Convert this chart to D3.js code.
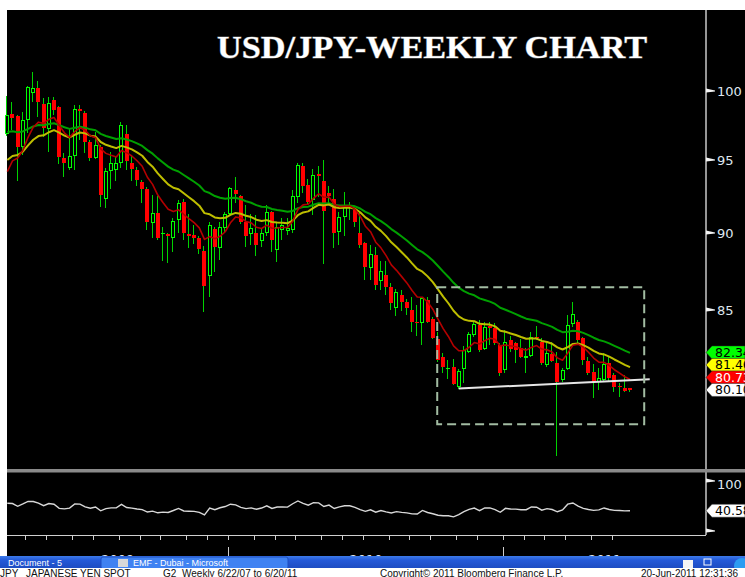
<!DOCTYPE html>
<html><head><meta charset="utf-8">
<script src="https://cdn.jsdelivr.net/npm/d3@7"></script>
<style>html,body{margin:0;padding:0;background:#fff;overflow:hidden}svg{display:block}</style>
</head><body>
<svg id="c" width="745" height="577"></svg>
<script>
// ---------------- DATA ----------------
const titleText = "USD/JPY-WEEKLY CHART";
const firstWeekEnding = "2009-03-06";
const opens = [96.85,98.29,98.12,95.95,97.87,99.83,100.25,99.00,97.22,99.33,98.84,95.12,94.43,95.29,98.66,98.36,96.30,95.12,95.95,92.30,
94.20,94.30,94.77,96.86,94.77,94.30,93.45,93.00,90.64,91.35,89.90,89.90,89.63,90.88,92.10,89.90,89.85,89.63,88.80,87.16,
90.25,89.00,90.30,91.30,92.90,92.50,90.74,89.90,89.97,89.43,90.00,91.40,88.85,90.20,90.10,90.20,92.44,94.60,93.25,92.20,
94.00,93.50,92.70,92.30,90.09,91.10,91.70,91.55,90.02,89.35,87.68,88.54,86.87,87.24,86.44,85.13,85.96,85.50,85.00,84.27,
84.17,85.63,84.42,83.17,82.11,81.34,81.46,80.26,81.34,82.41,83.44,84.06,82.55,83.99,83.85,82.82,81.30,83.13,82.92,82.61,
82.02,82.15,83.33,83.02,81.60,82.28,81.71,80.70,81.36,84.12,84.27,83.23,81.86,81.20,80.60,80.70,81.74,81.00,80.34,80.24,80.20];
const highs = [99.63,99.17,98.20,98.44,100.40,101.44,100.74,99.46,99.54,99.54,98.90,95.48,97.27,98.97,98.97,98.55,96.40,97.03,96.07,94.43,
95.60,95.30,97.75,97.50,95.25,94.50,93.60,93.14,92.57,92.50,90.42,90.00,91.00,92.20,92.30,91.30,90.50,89.76,89.10,90.70,
90.42,90.70,91.40,93.10,93.80,92.60,91.90,91.30,91.20,90.30,91.90,91.50,90.70,91.00,91.00,92.90,94.80,94.80,93.70,94.40,
94.60,95.00,93.20,92.95,91.44,92.80,92.10,91.70,91.44,89.42,89.20,89.09,88.11,88.11,86.70,86.30,86.27,85.70,85.82,85.32,
85.82,85.80,84.58,83.64,82.32,81.90,81.95,81.36,82.76,83.64,84.27,84.37,84.27,84.27,84.17,82.92,83.75,83.38,83.02,83.17,
82.61,83.64,84.00,83.23,82.92,83.02,82.41,81.40,84.69,85.53,84.37,83.33,82.11,81.67,81.40,82.32,82.11,81.11,80.50,81.00,80.20];
const lows = [96.70,97.15,93.54,95.36,96.90,99.20,98.10,96.67,95.60,98.20,94.72,93.84,94.30,94.30,96.43,95.48,94.90,95.08,91.77,91.70,
93.00,93.50,94.43,94.30,93.50,93.20,91.99,90.20,89.63,89.50,88.17,88.00,88.70,90.00,89.50,89.00,89.25,88.60,84.84,85.80,
87.45,88.20,90.00,91.20,92.00,90.60,89.05,89.20,88.50,89.05,89.80,88.70,88.10,89.50,89.87,90.00,92.00,92.70,91.90,91.20,
92.45,87.95,91.90,89.00,89.20,89.76,90.87,90.42,89.00,86.91,86.91,86.27,86.27,85.95,85.00,84.63,84.90,84.69,83.59,83.38,
82.82,84.20,83.17,81.78,81.11,80.74,80.40,80.18,80.50,82.32,83.33,82.41,82.51,82.82,82.82,80.95,81.14,82.40,81.74,82.02,
81.11,82.11,83.13,81.60,81.50,81.80,76.25,80.60,81.30,83.95,82.92,81.60,81.00,79.60,80.10,80.66,80.66,80.00,79.70,79.99,80.00];
const closes = [98.24,97.99,95.95,97.87,100.32,100.25,99.17,97.27,99.09,98.56,95.24,94.77,95.29,98.66,98.50,96.30,95.17,96.07,92.57,94.20,
94.77,94.77,97.51,94.90,94.35,93.60,93.00,90.74,91.31,89.63,90.00,89.76,90.82,92.04,90.00,89.80,89.63,88.90,86.50,90.50,
89.05,90.40,91.30,93.08,92.66,90.74,89.80,90.30,89.20,89.97,91.40,89.50,90.40,90.50,90.35,92.49,94.66,93.20,92.10,93.96,
93.85,91.50,92.50,89.98,91.10,91.89,91.90,90.76,89.20,87.74,88.60,86.59,87.52,86.44,85.46,86.11,85.50,85.10,84.27,84.17,
85.76,84.27,83.23,81.90,81.46,81.40,80.46,81.26,82.51,83.50,84.12,82.51,83.91,83.85,82.92,81.11,83.02,82.55,82.51,82.11,
82.15,83.33,83.23,81.71,82.32,81.86,80.60,81.30,84.06,84.75,83.13,81.90,81.14,80.60,80.80,81.67,80.80,80.30,80.26,80.04,80.10];
// weekly closes before the first visible bar (indicator warm-up)
const priorCloses = [102.5,99.3,99.6,99.9,102.4,101.2,103.5,104.4,105.0,104.2,104.3,103.2,105.5,106.9,107.7,107.9,106.1,106.6,104.1,106.9,
107.8,108.1,110.2,110.5,109.6,108.8,108.2,107.9,105.7,106.5,105.6,99.5,101.2,94.6,98.5,98.6,96.6,96.6,95.4,93.1,
91.6,89.7,90.6,90.6,90.3,90.7,88.8,89.9,92.0,91.9,94.1,97.6];
const maPeriods = [34, 20, 9];            // exponential moving averages: green, yellow, red
const maColors  = ["#00a000", "#bebe00", "#b40000"];
const maLabelFill = ["#00ff00", "#ffff00", "#ff0000"];
const maLabelText = ["#000", "#000", "#fff"];
const rsiPeriod = 14;
const priceTicks = [85, 90, 95, 100];
const rsiTicks = [100];
const trendline = [{i: 87, v: 80.18}, {i: 123.8, v: 80.73}];
const focusBox = {i0: 82.85, i1: 122.74, hi: 86.44, lo: 78.09};
const footerTexts = [
  {t: "JPY", x: 0}, {t: "JAPANESE YEN SPOT", x: 26}, {t: "G2", x: 163},
  {t: "Weekly  6/22/07 to 6/20/11", x: 182},
  {t: "Copyright\u00a9 2011 Bloomberg Finance L.P.", x: 380},
  {t: "20-Jun-2011 12:31:36", x: 641}
];
const taskbarTexts = [{t: "Document - 5", x: 8}, {t: "EMF - Dubai - Microsoft", x: 133}];

// ---------------- HELPERS ----------------
function ema(arr, p) { const a = 2 / (p + 1); const out = []; let e = arr[0];
  arr.forEach((v, k) => { e = k === 0 ? v : e + a * (v - e); out.push(e); }); return out; }
function rsi(arr, p) { const out = new Array(arr.length).fill(50); let ag = 0, al = 0;
  for (let k = 1; k < arr.length; k++) { const ch = arr[k] - arr[k-1]; const gn = Math.max(ch, 0), ls = Math.max(-ch, 0);
    if (k <= p) { ag += gn / p; al += ls / p; } else { ag = (ag * (p - 1) + gn) / p; al = (al * (p - 1) + ls) / p; }
    if (k >= p) out[k] = al === 0 ? 100 : 100 - 100 / (1 + ag / al); }
  return out; }

const full = priorCloses.concat(closes);
const n = closes.length, off = priorCloses.length;
const maSeries = maPeriods.map(p => ema(full, p).slice(off));
const rsiSeries = rsi(full, rsiPeriod).slice(off);

// ---------------- SCALES ----------------
const svg = d3.select("#c");
const x = d3.scaleLinear().domain([0, n - 1]).range([7.3, 630]);
const step = x(1) - x(0);
const y = d3.scaleLog().domain([75.59, 106.19]).range([468, 10]);
const yR = d3.scaleLinear().domain([0, 100]).range([531, 481]);
const axisX = 706;

svg.append("rect").attr("width", 745).attr("height", 577).attr("fill", "#fff");
svg.append("rect").attr("x", 7).attr("y", 10).attr("width", 738).attr("height", 547).attr("fill", "#000");

// ---------------- CANDLES ----------------
const gc = svg.append("g").attr("shape-rendering", "crispEdges");
closes.forEach((c, i) => {
  const o = opens[i], h = highs[i], l = lows[i];
  const cx = Math.round(x(i));
  const top = Math.round(y(Math.max(o, c))), bot = Math.max(Math.round(y(Math.min(o, c))), top + 1);
  const yh = Math.round(y(h)), yl = Math.round(y(l));
  gc.append("rect").attr("x", cx - 1).attr("width", 1).attr("y", yh).attr("height", Math.max(top - yh, 0)).attr("fill", "#00d200");
  gc.append("rect").attr("x", cx - 1).attr("width", 1).attr("y", bot).attr("height", Math.max(yl - bot, 0)).attr("fill", "#00d200");
  if (c >= o) {
    gc.append("rect").attr("x", cx - 2).attr("width", 4).attr("y", top).attr("height", bot - top).attr("fill", "#00ff00");
    if (bot - top > 2) gc.append("rect").attr("x", cx - 1).attr("width", 2).attr("y", top + 1).attr("height", bot - top - 2).attr("fill", "#000");
  } else {
    gc.append("rect").attr("x", cx - 2).attr("width", 4).attr("y", top).attr("height", bot - top).attr("fill", "#ff0000");
  }
});

// ---------------- MOVING AVERAGES ----------------
const line = d3.line().x((d, i) => x(i)).y(d => y(d));
maSeries.forEach((s, k) => {
  svg.append("path").attr("d", line(s)).attr("fill", "none").attr("stroke", maColors[k])
    .attr("stroke-width", k === 2 ? 1.6 : 2).attr("stroke-linejoin", "round");
});

// trendline + box
svg.append("line").attr("x1", x(trendline[0].i)).attr("y1", y(trendline[0].v))
  .attr("x2", x(trendline[1].i)).attr("y2", y(trendline[1].v)).attr("stroke", "#e6e6e6").attr("stroke-width", 2);
svg.append("rect").attr("x", x(focusBox.i0)).attr("y", y(focusBox.hi))
  .attr("width", x(focusBox.i1) - x(focusBox.i0)).attr("height", y(focusBox.lo) - y(focusBox.hi))
  .attr("fill", "none").attr("stroke", "#a2bca2").attr("stroke-width", 2).attr("stroke-dasharray", "9,5");

// title
svg.append("text").attr("x", 217).attr("y", 58).attr("textLength", 430).attr("lengthAdjust", "spacingAndGlyphs")
  .attr("font-family", "Liberation Serif, serif").attr("font-weight", "bold").attr("font-size", 32)
  .attr("fill", "#fff").attr("stroke", "#666").attr("stroke-width", 1).attr("paint-order", "stroke").text(titleText);

// ---------------- RIGHT AXIS ----------------
svg.append("line").attr("x1", axisX).attr("x2", axisX).attr("y1", 10).attr("y2", 535).attr("stroke", "#c8c8c8").attr("stroke-width", 1.5);
function pennant(yy) {
  svg.append("path").attr("d", `M${axisX},${yy - 2.5}L${axisX + 9},${yy - 0.5}L${axisX + 9},${yy + 0.5}L${axisX},${yy + 1.5}Z`).attr("fill", "#f2f2f2");
}
priceTicks.forEach(t => {
  const yy = y(t); pennant(yy);
  svg.append("text").attr("x", 717).attr("y", yy + 5).attr("font-family", "DejaVu Sans, sans-serif").attr("font-size", 13)
    .attr("fill", "#dfe6ef").text(t);
});
function valueLabel(v, yy, fill, txt) {
  svg.append("path").attr("d", `M${axisX},${yy}L${axisX + 6},${yy - 6.5}L745,${yy - 6.5}L745,${yy + 6.5}L${axisX + 6},${yy + 6.5}Z`)
    .attr("fill", fill).attr("stroke", "#222").attr("stroke-width", 0.5);
  svg.append("text").attr("x", 715).attr("y", yy + 4.5).attr("font-family", "DejaVu Sans, sans-serif").attr("font-size", 12.5)
    .attr("fill", txt).text(d3.format(".2f")(v));
}
// right-edge value labels: last price at its level, MA labels stacked upward without collisions
const labels = maSeries.map((s, k) => ({v: s[n - 1], fill: maLabelFill[k], txt: maLabelText[k]}))
  .concat([{v: closes[n - 1], fill: "#ffffff", txt: "#000"}]);
labels.forEach(l => l.yy = y(l.v));
labels.sort((a, b) => b.yy - a.yy);
for (let k = 1; k < labels.length; k++) labels[k].yy = Math.min(labels[k].yy, labels[k - 1].yy - 12.5);
labels.slice().reverse().forEach(l => valueLabel(l.v, l.yy, l.fill, l.txt));

// separator
svg.append("rect").attr("x", 7).attr("y", 469).attr("width", 738).attr("height", 3.5).attr("fill", "#8a8a8a");

// ---------------- LOWER PANEL (RSI) ----------------
svg.append("path").attr("d", d3.line().x((d, i) => x(i)).y(d => yR(d))(rsiSeries))
  .attr("fill", "none").attr("stroke", "#d8d8d8").attr("stroke-width", 1.4);
rsiTicks.forEach(t => { pennant(yR(t)); svg.append("text").attr("x", 717).attr("y", yR(t) + 8)
  .attr("font-family", "DejaVu Sans, sans-serif").attr("font-size", 13).attr("fill", "#dfe6ef").text(t); });
pennant(yR(0));
valueLabel(rsiSeries[n - 1], yR(rsiSeries[n - 1]), "#ffffff", "#000");

// ---------------- TIME AXIS ----------------
svg.append("line").attr("x1", 7).attr("x2", axisX).attr("y1", 535.5).attr("y2", 535.5).attr("stroke", "#cfcfcf").attr("stroke-width", 1);
const t0 = new Date(firstWeekEnding + "T12:00:00");
const dates = closes.map((_, i) => d3.timeDay.offset(t0, 7 * i));
const yearBounds = [];
dates.forEach((d, i) => {
  if (i === 0) return;
  if (d.getMonth() !== dates[i - 1].getMonth()) {
    const xx = Math.round(x(i) - step / 2) + 0.5;
    svg.append("line").attr("x1", xx).attr("x2", xx).attr("y1", 536).attr("y2", 540).attr("stroke", "#cfcfcf");
    if (d.getFullYear() !== dates[i - 1].getFullYear()) {
      yearBounds.push({x: xx, year: d.getFullYear()});
      svg.append("line").attr("x1", xx).attr("x2", xx).attr("y1", 547).attr("y2", 557).attr("stroke", "#cfcfcf");
    }
  }
});
const segs = [{a: 7, b: yearBounds[0].x, year: dates[0].getFullYear()}];
yearBounds.forEach((yb, k) => segs.push({a: yb.x, b: k + 1 < yearBounds.length ? yearBounds[k + 1].x : axisX, year: yb.year}));
segs.forEach(s => svg.append("text").attr("x", (s.a + s.b) / 2).attr("y", 564).attr("text-anchor", "middle")
  .attr("font-family", "DejaVu Sans, sans-serif").attr("font-size", 13).attr("fill", "#dfe6ef").text(s.year));

// ---------------- TASKBAR + FOOTER ----------------
const defs = svg.append("defs");
const gr = defs.append("linearGradient").attr("id", "tb").attr("x1", 0).attr("x2", 0).attr("y1", 0).attr("y2", 1);
gr.append("stop").attr("offset", 0).attr("stop-color", "#3d7bea");
gr.append("stop").attr("offset", 0.35).attr("stop-color", "#2459d8");
gr.append("stop").attr("offset", 1).attr("stop-color", "#1d4cc2");
svg.append("rect").attr("x", 0).attr("y", 556).attr("width", 745).attr("height", 12).attr("fill", "url(#tb)");
svg.append("rect").attr("x", 101).attr("y", 557).attr("width", 187).attr("height", 12).attr("rx", 2).attr("fill", "#3f82f2").attr("stroke", "#1e4fc0");
svg.append("rect").attr("x", 118).attr("y", 559).attr("width", 10).attr("height", 8).attr("fill", "#d8d8d8");
taskbarTexts.forEach(f => svg.append("text").attr("x", f.x).attr("y", 566).attr("font-family", "Liberation Sans, sans-serif")
  .attr("font-size", 9).attr("fill", "#fff").text(f.t));
svg.append("rect").attr("x", 683).attr("y", 560).attr("width", 10).attr("height", 8).attr("fill", "#f4f4f4");
svg.append("rect").attr("x", 704).attr("y", 559).attr("width", 7).attr("height", 6).attr("fill", "none").attr("stroke", "#fff");
svg.append("circle").attr("cx", 742).attr("cy", 566).attr("r", 8).attr("fill", "#2b9cf2");
svg.append("rect").attr("x", 0).attr("y", 568).attr("width", 745).attr("height", 9).attr("fill", "#fff");
footerTexts.forEach(f => svg.append("text").attr("x", f.x).attr("y", 576.5).attr("font-family", "Liberation Sans, Arial, sans-serif")
  .attr("font-size", 10).attr("fill", "#111").text(f.t));
</script>
</body></html>
